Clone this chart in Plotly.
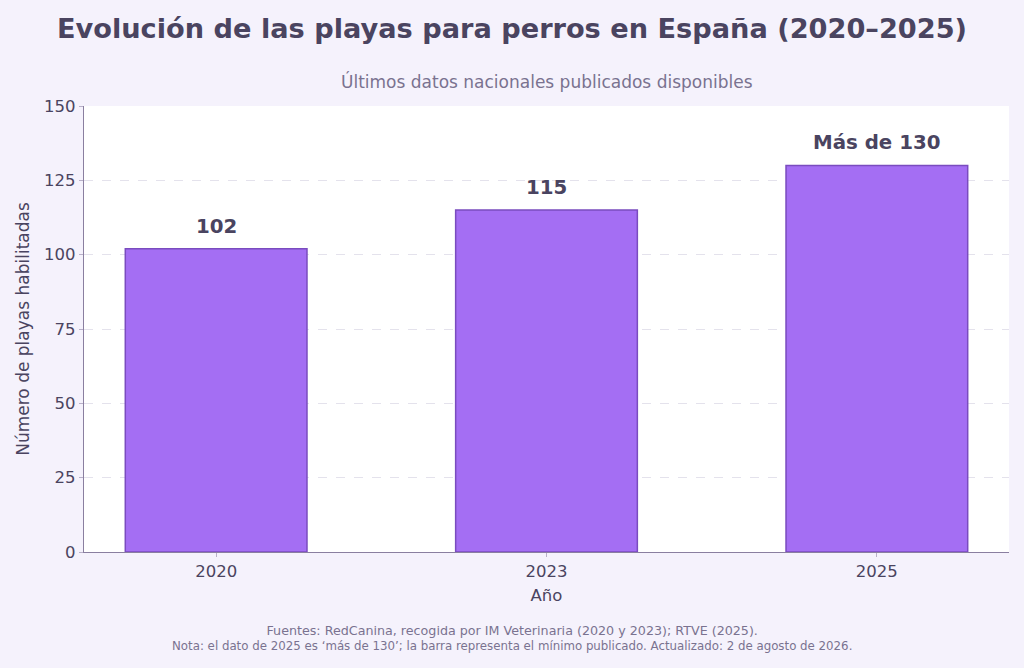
import plotly.graph_objects as go

years = ["2020", "2023", "2025"]
playas = [102, 115, 130]
etiquetas = ["102", "115", "Más de 130"]
y_ticks = [0, 25, 50, 75, 100, 125, 150]

TEXT = "#4a4460"
MUTED = "#7a7290"
BG = "#f5f2fc"
FONT = "DejaVu Sans"

W, H = 1024, 668
M = dict(l=84, r=15, t=106, b=116)
# centro de la figura expresado en coordenadas "paper"
x_centro = (W / 2 - M["l"]) / (W - M["l"] - M["r"])

fig = go.Figure(go.Bar(
    x=years,
    y=playas,
    width=0.55,
    marker=dict(color="#a46ef3", line=dict(color="#7a4cbf", width=1.5)),
    hoverinfo="skip",
))

# etiquetas sobre las barras (x como indice de categoria)
for i, (val, lab) in enumerate(zip(playas, etiquetas)):
    fig.add_annotation(
        x=i, y=val, text=f"<b>{lab}</b>", showarrow=False,
        yanchor="bottom", yshift=9,
        font=dict(family=FONT, size=19.8, color=TEXT),
    )

fig.add_annotation(
    text="Últimos datos nacionales publicados disponibles",
    xref="paper", yref="paper", x=0.5, y=1, yshift=25, xanchor="center", yanchor="middle",
    showarrow=False, font=dict(family=FONT, size=17, color=MUTED),
)
fig.add_annotation(
    text="<span style='font-size:12.7px'>Fuentes: RedCanina, recogida por IM Veterinaria (2020 y 2023); RTVE (2025).</span><br>"
         "Nota: el dato de 2025 es ‘más de 130’; la barra representa el mínimo publicado. Actualizado: 2 de agosto de 2026.",
    xref="paper", yref="paper", x=x_centro, y=0, yshift=-86, xanchor="center", yanchor="middle",
    showarrow=False, align="center", font=dict(family=FONT, size=11.8, color=MUTED),
)

fig.update_layout(
    width=W, height=H,
    paper_bgcolor=BG, plot_bgcolor="white",
    margin=M,
    font=dict(family=FONT, color=TEXT),
    showlegend=False,
    title=dict(
        text="<b>Evolución de las playas para perros en España (2020–2025)</b>",
        xref="container", x=0.5, xanchor="center",
        yref="container", y=0.958, yanchor="middle",
        font=dict(family=FONT, size=27.2, color=TEXT),
    ),
    xaxis=dict(
        type="category",
        range=[-0.4, 2.4],
        title=dict(text="Año", font=dict(size=16.5, color=TEXT), standoff=9),
        tickfont=dict(size=16.5, color=TEXT),
        showline=True, linecolor="#8a7fa0", linewidth=1.2,
        ticks="outside", ticklen=4, tickcolor="#b8b0c8",
        showgrid=False,
    ),
    yaxis=dict(
        range=[0, 150],
        tickvals=y_ticks,
        title=dict(text="Número de playas habilitadas", font=dict(size=17, color=TEXT), standoff=10),
        tickfont=dict(size=16.5, color=TEXT),
        showline=True, linecolor="#8a7fa0", linewidth=1.2,
        ticks="outside", ticklen=4, tickcolor="#b8b0c8",
        showgrid=True, gridcolor="#e4e2ec", griddash="dash", gridwidth=1,
        zeroline=False,
    ),
)

fig.write_html("out.html", config={"displayModeBar": False},
               post_script="document.body.style.margin='0';")
